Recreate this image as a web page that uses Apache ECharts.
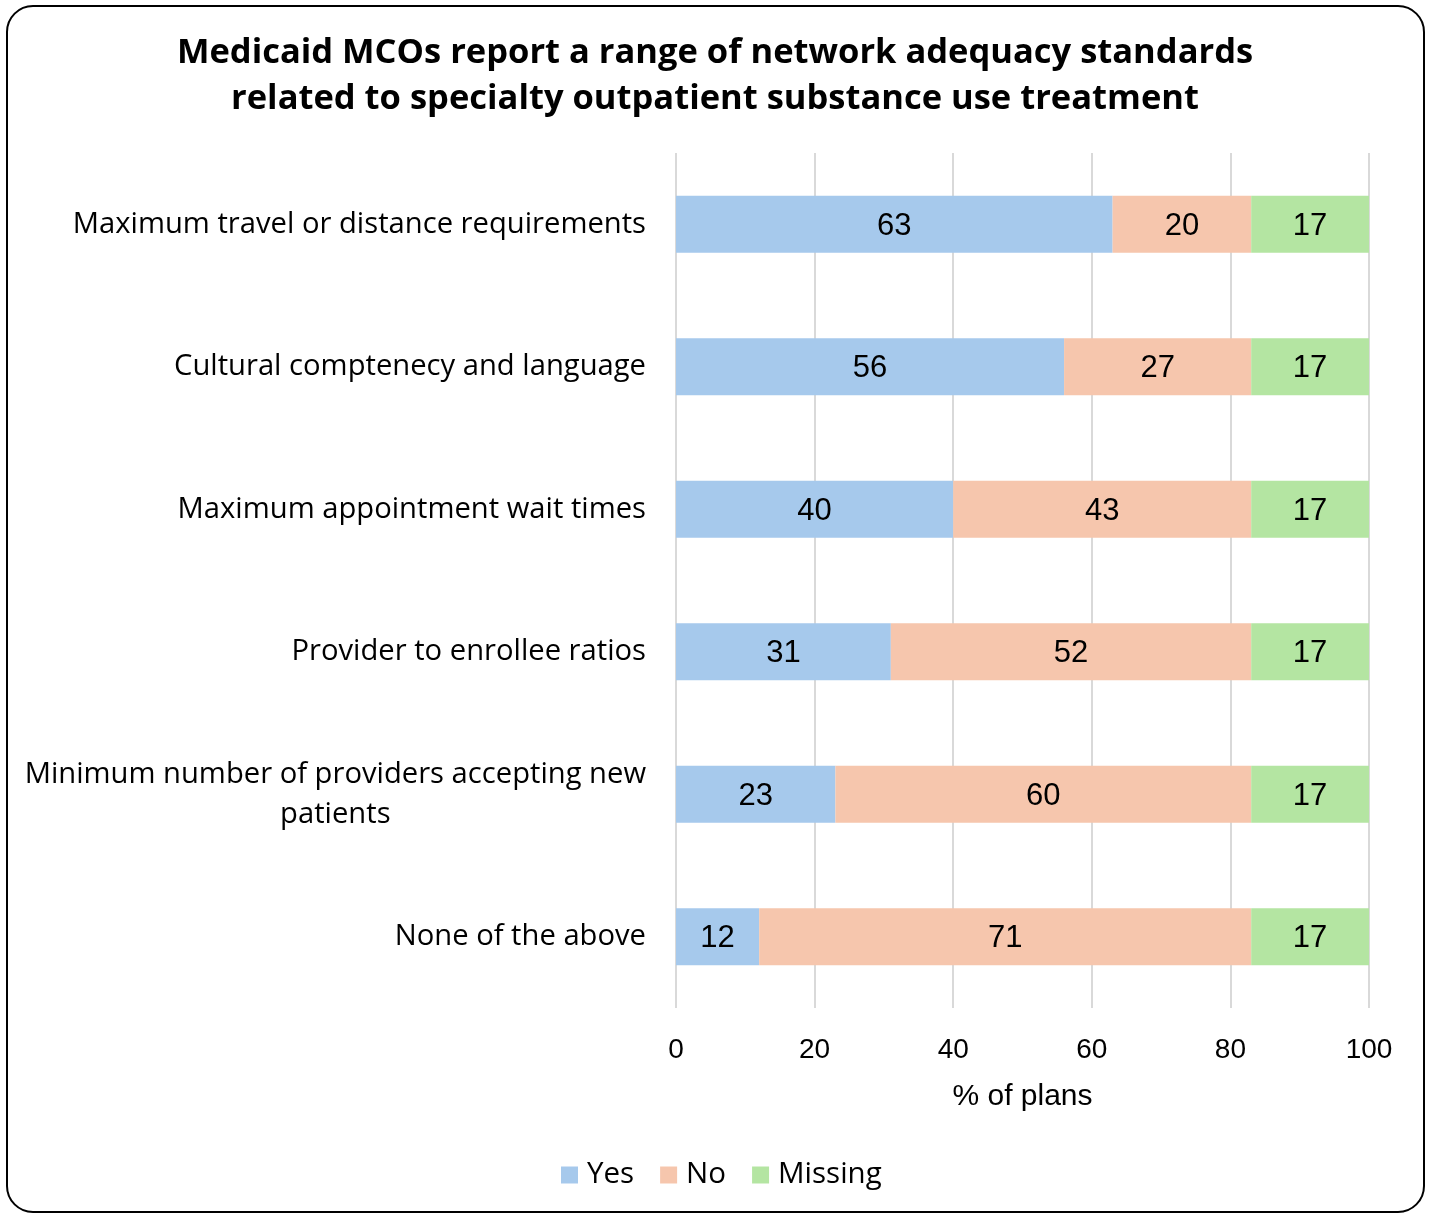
<!DOCTYPE html>
<html>
<head>
<meta charset="utf-8">
<script src="https://cdn.jsdelivr.net/npm/echarts@6/dist/echarts.min.js"></script>
<style>
  html, body { margin: 0; padding: 0; background: #fff; }
  #chart { width: 1429px; height: 1213px; }
</style>
</head>
<body>
<div id="chart"></div>
<script>
// Network adequacy standards for specialty outpatient SUD treatment (% of plans)
const categories = [
  'Maximum travel or distance requirements',
  'Cultural comptenecy and language',
  'Maximum appointment wait times',
  'Provider to enrollee ratios',
  'Minimum number of providers accepting new\npatients',
  'None of the above'
];
const yesValues     = [63, 56, 40, 31, 23, 12];
const noValues      = [20, 27, 43, 52, 60, 71];
const missingValues = [17, 17, 17, 17, 17, 17];
const xTicks = { min: 0, max: 100, interval: 20 };

const numFont = '"Liberation Sans", Arial, sans-serif';
const body = '"Open Sans", "Noto Sans", sans-serif';

const chart = echarts.init(document.getElementById('chart'), null, { renderer: 'canvas' });

function barSeries(name, values, color) {
  return {
    name: name,
    type: 'bar',
    stack: 'total',
    barWidth: 57,
    data: values,
    itemStyle: { color: color },
    label: {
      show: true,
      position: 'inside',
      offset: [0, 2],
      color: '#000',
      fontFamily: numFont,
      fontSize: 31
    },
    emphasis: { disabled: true }
  };
}

chart.setOption({
  animation: false,
  backgroundColor: '#fff',
  graphic: [{
    type: 'rect',
    shape: { x: 7, y: 6, width: 1417, height: 1206, r: 26 },
    style: { fill: 'none', stroke: '#000', lineWidth: 2 },
    silent: true
  }],
  title: {
    text: 'Medicaid MCOs report a range of network adequacy standards\nrelated to specialty outpatient substance use treatment',
    left: 715,
    textAlign: 'center',
    top: 30,
    padding: 0,
    textStyle: {
      fontFamily: body,
      fontWeight: 'bold',
      fontSize: 34.5,
      lineHeight: 46,
      color: '#000'
    }
  },
  legend: {
    data: ['Yes', 'No', 'Missing'],
    left: 561,
    top: 1160,
    padding: 0,
    icon: 'rect',
    itemWidth: 17,
    itemHeight: 17,
    itemGap: 26,
    textStyle: { fontFamily: body, fontSize: 29.5, color: '#000', padding: [0, 0, 0, 4] }
  },
  grid: { left: 676, right: 60, top: 153, bottom: 205, containLabel: false },
  xAxis: {
    type: 'value',
    min: xTicks.min,
    max: xTicks.max,
    interval: xTicks.interval,
    name: '% of plans',
    nameLocation: 'middle',
    nameGap: 74,
    nameTextStyle: { fontFamily: numFont, fontSize: 30, color: '#000' },
    axisLine: { show: false },
    axisTick: { show: false },
    axisLabel: { fontFamily: numFont, fontSize: 28, color: '#000', margin: 28 },
    splitLine: { show: true, lineStyle: { color: '#d9d9d9', width: 2 } }
  },
  yAxis: {
    type: 'category',
    inverse: true,
    data: categories,
    axisLine: { show: false },
    axisTick: { show: false },
    axisLabel: {
      margin: 30,
      formatter: v => '{c|' + v + '}',
      rich: {
        c: {
          align: 'center',
          fontFamily: body,
          fontSize: 29.2,
          lineHeight: 40,
          color: '#000'
        }
      }
    }
  },
  series: [
    barSeries('Yes', yesValues, '#a6c9ec'),
    barSeries('No', noValues, '#f6c6ad'),
    barSeries('Missing', missingValues, '#b4e5a2')
  ]
});
</script>
</body>
</html>
